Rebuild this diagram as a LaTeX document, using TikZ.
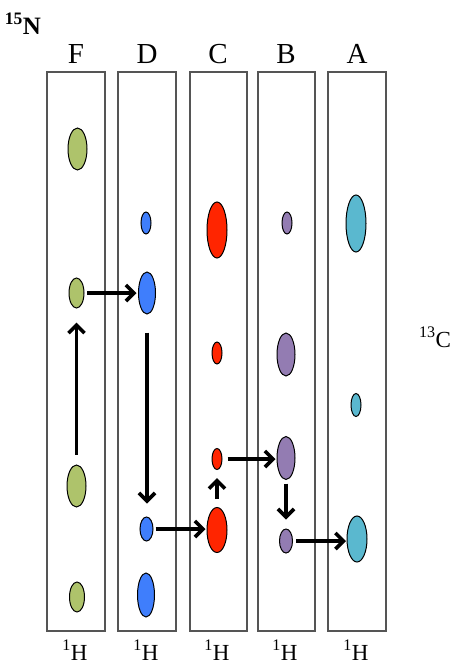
\documentclass[tikz,border=0pt]{standalone}
\usepackage{fontspec}
\setmainfont{Liberation Serif}
\usetikzlibrary{shapes.geometric,arrows.meta}

\definecolor{pkgreen}{HTML}{AEC36B}
\definecolor{pkblue}{HTML}{3F7EFC}
\definecolor{pkred}{HTML}{FF2500}
\definecolor{pkpurple}{HTML}{937CB2}
\definecolor{pkteal}{HTML}{5AB8CF}
\definecolor{stripgray}{HTML}{555555}

\begin{document}
\begin{tikzpicture}[x=1pt,y=-1pt,
  strip/.style={draw=stripgray,line width=1.4pt,minimum height=559pt,inner sep=0pt},
  peak/.style={ellipse,draw=black,line width=1pt,inner sep=0pt},
  flow/.style={-{Straight Barb[length=8pt,width=16pt]},line width=3.6pt},
  collbl/.style={anchor=base,font=\fontsize{29}{32}\selectfont},
  axlbl/.style={anchor=base,font=\fontsize{23}{26}\selectfont},
]
\useasboundingbox (0,0) rectangle (453,664);

% strips
\node[strip,minimum width=58pt] (sF) at (76,351.5) {};
\node[strip,minimum width=58pt] (sD) at (147,351.5) {};
\node[strip,minimum width=57pt] (sC) at (218.5,351.5) {};
\node[strip,minimum width=57pt] (sB) at (286.5,351.5) {};
\node[strip,minimum width=58pt] (sA) at (357,351.5) {};

% strip labels
\node[collbl] (lF) at (76,63) {F};
\node[collbl] (lD) at (147,63) {D};
\node[collbl] (lC) at (218,63) {C};
\node[collbl] (lB) at (286,63) {B};
\node[collbl] (lA) at (357,63) {A};

\node[axlbl] (hF) at (75,660) {\textsuperscript{1}H};
\node[axlbl] (hD) at (146,660) {\textsuperscript{1}H};
\node[axlbl] (hC) at (217,660) {\textsuperscript{1}H};
\node[axlbl] (hB) at (285,660) {\textsuperscript{1}H};
\node[axlbl] (hA) at (356,660) {\textsuperscript{1}H};

\node[axlbl] (cax) at (435,347) {\textsuperscript{13}C};
\node[axlbl,font=\fontsize{25}{28}\selectfont\bfseries] (nax) at (23,34) {\textsuperscript{15}N};

% peaks, strip F
\node[peak,fill=pkgreen,minimum width=19pt,minimum height=42pt] (f1) at (77.5,149) {};
\node[peak,fill=pkgreen,minimum width=15pt,minimum height=30pt] (f2) at (76.5,293) {};
\node[peak,fill=pkgreen,minimum width=19pt,minimum height=42pt] (f3) at (76.5,486) {};
\node[peak,fill=pkgreen,minimum width=15pt,minimum height=30pt] (f4) at (77,597) {};
% strip D
\node[peak,fill=pkblue,minimum width=10pt,minimum height=22pt] (d1) at (146,223) {};
\node[peak,fill=pkblue,minimum width=17pt,minimum height=42pt] (d2) at (147,293) {};
\node[peak,fill=pkblue,minimum width=13pt,minimum height=24pt] (d3) at (146.5,529) {};
\node[peak,fill=pkblue,minimum width=17pt,minimum height=44pt] (d4) at (146,595) {};
% strip C
\node[peak,fill=pkred,minimum width=20pt,minimum height=56pt] (c1) at (217,230) {};
\node[peak,fill=pkred,minimum width=10pt,minimum height=22pt] (c2) at (217,353) {};
\node[peak,fill=pkred,minimum width=10pt,minimum height=21pt] (c3) at (217,459) {};
\node[peak,fill=pkred,minimum width=20pt,minimum height=45pt] (c4) at (217,530) {};
% strip B
\node[peak,fill=pkpurple,minimum width=10pt,minimum height=22pt] (b1) at (287,223) {};
\node[peak,fill=pkpurple,minimum width=18pt,minimum height=43pt] (b2) at (286,354.5) {};
\node[peak,fill=pkpurple,minimum width=18pt,minimum height=43pt] (b3) at (286,458) {};
\node[peak,fill=pkpurple,minimum width=13pt,minimum height=24pt] (b4) at (286,541) {};
% strip A
\node[peak,fill=pkteal,minimum width=20pt,minimum height=57pt] (a1) at (356,223.5) {};
\node[peak,fill=pkteal,minimum width=10pt,minimum height=23pt] (a2) at (356,405) {};
\node[peak,fill=pkteal,minimum width=20pt,minimum height=46pt] (a3) at (357,539) {};

% sequential walk
\draw[flow,shorten <=2.5pt,shorten >=1.5pt] (f2.east) -- (f2.east -| d2.west);
\draw[flow,shorten <=10pt,shorten >=14pt] (f3.north) -- (f2.south);
\draw[flow,shorten <=18pt,shorten >=13pt] (d2.south) -- (d2.south |- d3.north);
\draw[flow,shorten <=2pt,shorten >=1pt] (d3.east) -- (d3.east -| c4.west);
\draw[flow,shorten <=8pt,shorten >=8pt] (c4.north) -- (c3.south);
\draw[flow,shorten <=5pt,shorten >=1pt] (c3.east) -- (c3.east -| b3.west);
\draw[flow,shorten <=3.5pt,shorten >=9pt] (b3.south) -- (b4.north);
\draw[flow,shorten <=3pt,shorten >=0.5pt] (b4.east) -- (b4.east -| a3.west);
\end{tikzpicture}
\end{document}
